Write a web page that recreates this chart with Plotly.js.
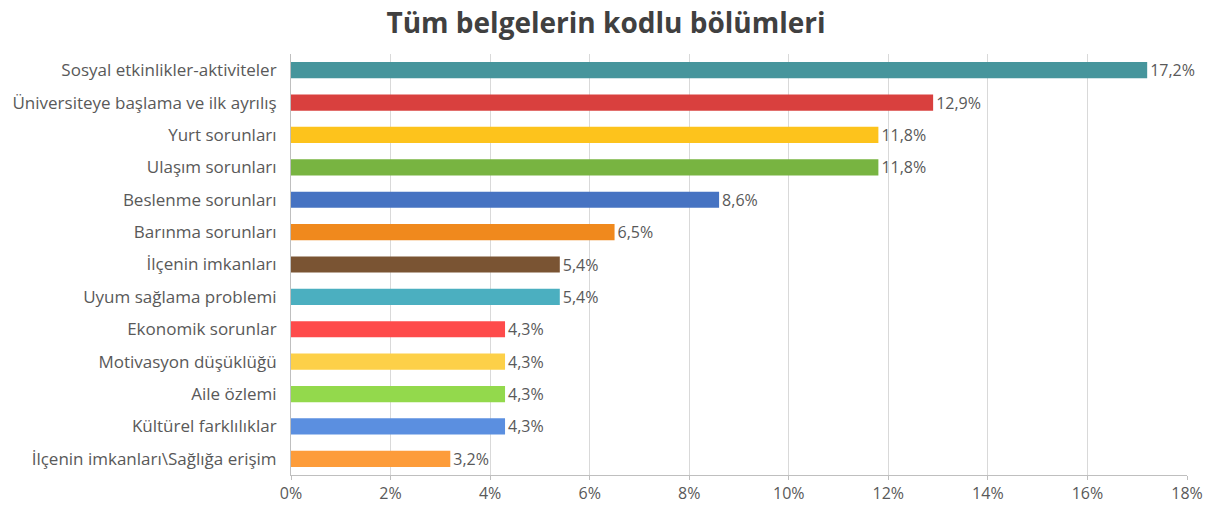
<!DOCTYPE html>
<html><head><meta charset="utf-8">
<script src="https://cdn.plot.ly/plotly-3.0.1.min.js"></script>
<style>html,body{margin:0;padding:0;background:#fff;}#chart{width:1212px;height:508px;}</style>
</head><body><div id="chart"></div>
<script>
const categories = [
  "Sosyal etkinlikler-aktiviteler",
  "Üniversiteye başlama ve ilk ayrılış",
  "Yurt sorunları",
  "Ulaşım sorunları",
  "Beslenme sorunları",
  "Barınma sorunları",
  "İlçenin imkanları",
  "Uyum sağlama problemi",
  "Ekonomik sorunlar",
  "Motivasyon düşüklüğü",
  "Aile özlemi",
  "Kültürel farklılıklar",
  "İlçenin imkanları\\Sağlığa erişim"
];
const values = [17.2, 12.9, 11.8, 11.8, 8.6, 6.5, 5.4, 5.4, 4.3, 4.3, 4.3, 4.3, 3.2];
const colors = ["#46959c","#d9403e","#fdc31c","#78b441","#4673c2","#f0891d","#7a5433","#4bafc0","#fe4b4b","#fdd048","#93d94c","#5b8fe0","#fd9c3a"];
const tickVals = [0,2,4,6,8,10,12,14,16,18];
const tickText = tickVals.map(v => v + "%");

const font = "'Open Sans', sans-serif";
const trace = {
  type: "bar",
  orientation: "h",
  y: categories,
  x: values,
  marker: {color: colors, line: {width: 0}},
  width: 0.5,
  text: values.map(v => v.toFixed(1).replace(".", ",") + "%"),
  textposition: "outside",
  constraintext: "none",
  cliponaxis: false,
  textfont: {family: font, size: 16, color: "#595959"},
  hoverinfo: "none"
};
const layout = {
  width: 1212, height: 508,
  margin: {l: 291, r: 25, t: 54, b: 33},
  paper_bgcolor: "#fff", plot_bgcolor: "#fff",
  title: {text: "<b>Tüm belgelerin kodlu bölümleri</b>", x: 0.5, xanchor: "center", y: 0.955, yanchor: "middle",
          font: {family: "'Open Sans', sans-serif", size: 28, color: "#404040"}},
  showlegend: false,
  bargap: 0.5,
  xaxis: {range: [0, 18], tickvals: tickVals, ticktext: tickText, showgrid: true, gridcolor: "#d9d9d9", gridwidth: 1,
          zeroline: false, showline: true, linecolor: "#bfbfbf", ticks: "outside", ticklen: 4, tickcolor: "#bfbfbf",
          tickfont: {family: font, size: 16, color: "#595959"}, fixedrange: true},
  yaxis: {autorange: "reversed", showline: true, linecolor: "#bfbfbf", ticks: "", ticklen: 0, ticklabelstandoff: 10,
          tickfont: {family: font, size: 17, color: "#595959"}, fixedrange: true}
};
Plotly.newPlot("chart", [trace], layout, {displayModeBar: false, staticPlot: true});
</script></body></html>
